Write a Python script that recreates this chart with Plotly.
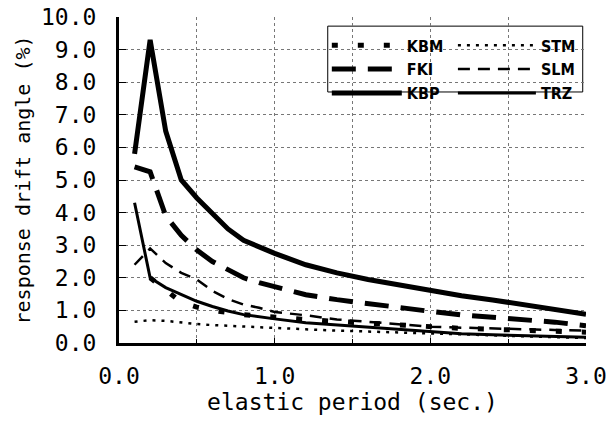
import plotly.graph_objects as go

# ---- data ----
period_kbp = [0.1, 0.2, 0.3, 0.4, 0.5, 0.6, 0.7, 0.8, 0.9, 1.0, 1.2, 1.4, 1.6, 1.8, 2.0, 2.2, 2.4, 2.6, 2.8, 3.0]
kbp = [5.8, 9.3, 6.5, 5.0, 4.45, 3.95, 3.5, 3.15, 2.95, 2.75, 2.4, 2.15, 1.95, 1.78, 1.6, 1.45, 1.32, 1.18, 1.05, 0.88]

period_fki = [0.1, 0.2, 0.3, 0.4, 0.5, 0.6, 0.7, 0.8, 0.9, 1.0, 1.2, 1.4, 1.6, 1.8, 2.0, 2.2, 2.4, 2.6, 2.8, 3.0]
fki = [5.4, 5.25, 3.9, 3.3, 2.85, 2.5, 2.25, 2.0, 1.85, 1.72, 1.48, 1.33, 1.2, 1.08, 0.97, 0.86, 0.79, 0.73, 0.64, 0.53]

period_slm = [0.1, 0.2, 0.3, 0.4, 0.5, 0.6, 0.7, 0.8, 0.9, 1.0, 1.2, 1.4, 1.6, 1.8, 2.0, 2.2, 2.4, 2.6, 2.8, 3.0]
slm = [2.4, 2.9, 2.45, 2.15, 1.95, 1.6, 1.35, 1.18, 1.08, 0.95, 0.85, 0.72, 0.65, 0.57, 0.5, 0.47, 0.44, 0.42, 0.4, 0.38]

period_trz = [0.1, 0.2, 0.3, 0.4, 0.5, 0.6, 0.7, 0.8, 0.9, 1.0, 1.2, 1.4, 1.6, 1.8, 2.0, 2.2, 2.4, 2.6, 2.8, 3.0]
trz = [4.3, 2.0, 1.7, 1.5, 1.28, 1.12, 0.98, 0.87, 0.8, 0.74, 0.62, 0.55, 0.48, 0.4, 0.33, 0.28, 0.25, 0.22, 0.2, 0.18]

period_kbm = [0.2, 0.3, 0.4, 0.5, 0.6, 0.8, 1.0, 1.2, 1.4, 1.6, 1.8, 2.0, 2.2, 2.4, 2.6, 2.8, 3.0]
kbm = [2.0, 1.6, 1.25, 1.1, 1.0, 0.87, 0.78, 0.72, 0.66, 0.6, 0.55, 0.5, 0.45, 0.42, 0.4, 0.37, 0.33]

period_stm = [0.1, 0.2, 0.3, 0.4, 0.5, 0.6, 0.8, 1.0, 1.2, 1.4, 1.6, 1.8, 2.0, 2.2, 2.4, 2.6, 2.8, 3.0]
stm = [0.65, 0.7, 0.68, 0.62, 0.58, 0.55, 0.5, 0.45, 0.42, 0.38, 0.35, 0.31, 0.28, 0.25, 0.22, 0.2, 0.18, 0.15]

y_ticks = [0, 1, 2, 3, 4, 5, 6, 7, 8, 9, 10]
y_tick_labels = ["0.0", "1.0", "2.0", "3.0", "4.0", "5.0", "6.0", "7.0", "8.0", "9.0", "10.0"]
x_ticks = [0, 1, 2, 3]
x_tick_labels = ["0.0", "1.0", "2.0", "3.0"]

fig = go.Figure()

fig.add_trace(go.Scatter(x=period_kbm, y=kbm, name="KBM", mode="lines", legend="legend",
                         line=dict(color="black", width=5, dash="6px,20px")))
fig.add_trace(go.Scatter(x=period_fki, y=fki, name="FKI", mode="lines", legend="legend",
                         line=dict(color="black", width=5, dash="24px,12px")))
fig.add_trace(go.Scatter(x=period_kbp, y=kbp, name="KBP", mode="lines", legend="legend",
                         line=dict(color="black", width=5)))
fig.add_trace(go.Scatter(x=period_stm, y=stm, name="STM", mode="lines", legend="legend2",
                         line=dict(color="black", width=2.5, dash="3px,6px")))
fig.add_trace(go.Scatter(x=period_slm, y=slm, name="SLM", mode="lines", legend="legend2",
                         line=dict(color="black", width=2.5, dash="12px,8px")))
fig.add_trace(go.Scatter(x=period_trz, y=trz, name="TRZ", mode="lines", legend="legend2",
                         line=dict(color="black", width=3)))

mono = "DejaVu Sans Mono, Liberation Mono, monospace"
tick_font = dict(family=mono, size=23, color="black")
leg_font = dict(family="DejaVu Sans Condensed, Liberation Sans Narrow, Liberation Sans",
                size=16, color="black", weight="bold")

fig.update_layout(
    width=609, height=427,
    margin=dict(l=119, r=23, t=17, b=84, autoexpand=False),
    paper_bgcolor="white", plot_bgcolor="white",
    showlegend=True,
    legend=dict(
        x=0.445, y=0.965, xanchor="left", yanchor="top",
        bgcolor="rgba(0,0,0,0)", borderwidth=0,
        itemwidth=70, tracegroupgap=0, font=leg_font,
    ),
    legend2=dict(
        x=0.715, y=0.965, xanchor="left", yanchor="top",
        bgcolor="rgba(0,0,0,0)", borderwidth=0,
        itemwidth=78, tracegroupgap=0, font=leg_font,
    ),
    shapes=[dict(type="rect", xref="paper", yref="paper",
                 x0=0.447, x1=0.993, y0=0.770, y1=0.972,
                 line=dict(color="black", width=1), fillcolor="white", layer="below")],
    xaxis=dict(
        range=[0, 3.0], tickvals=x_ticks, ticktext=x_tick_labels,
        tickfont=tick_font, ticks="inside", ticklen=5, tickcolor="black",
        showline=True, linecolor="black", linewidth=3,
        showgrid=True, gridcolor="#777", griddash="dot", gridwidth=1,
        minor=dict(dtick=0.5, showgrid=True, gridcolor="#777", griddash="dot", gridwidth=1,
                   ticks="inside", ticklen=4, tickcolor="black"),
        zeroline=False, ticklabelstandoff=10, automargin=False,
        title=dict(text="elastic period (sec.)", font=tick_font, standoff=6),
    ),
    yaxis=dict(
        range=[0, 10.0], tickvals=y_ticks, ticktext=y_tick_labels,
        tickfont=tick_font, ticks="inside", ticklen=7, tickcolor="black",
        showline=True, linecolor="black", linewidth=3,
        showgrid=True, gridcolor="#777", griddash="dot", gridwidth=1,
        zeroline=False, ticklabelstandoff=15, automargin=False,
        title=dict(text="response drift angle (%)",
                   font=dict(family=mono, size=20, color="black"),
                   standoff=6),
    ),
)

fig.write_html("out.html",
               config={"displayModeBar": False},
               post_script="document.body.style.margin='0';document.body.style.overflow='hidden';")
